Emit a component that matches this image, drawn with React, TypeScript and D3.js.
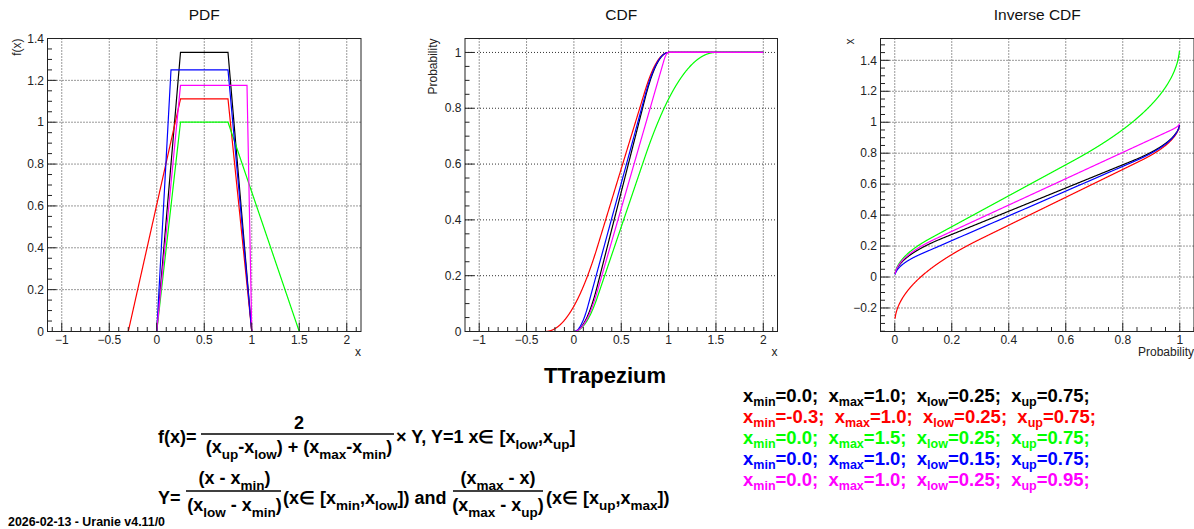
import React from "react";
import * as d3 from "d3";

const W = 1194;
const H = 529;
const FONT = "'Liberation Sans', Arial, Helvetica, sans-serif";

const seriesColors = ["#000000", "#ff0000", "#00ff00", "#0000ff", "#ff00ff"];
const xMinValues = [0.0, -0.3, 0.0, 0.0, 0.0];
const xMaxValues = [1.0, 1.0, 1.5, 1.0, 1.0];
const xLowValues = [0.25, 0.25, 0.25, 0.15, 0.25];
const xUpValues = [0.75, 0.75, 0.75, 0.75, 0.95];

// ---- tick labels ----
const pdfXTicks = [-1, -0.5, 0, 0.5, 1, 1.5, 2];
const pdfYTicks = [0, 0.2, 0.4, 0.6, 0.8, 1, 1.2, 1.4];
const cdfXTicks = [-1, -0.5, 0, 0.5, 1, 1.5, 2];
const cdfYTicks = [0, 0.2, 0.4, 0.6, 0.8, 1];
const invXTicks = [0, 0.2, 0.4, 0.6, 0.8, 1];
const invYTicks = [-0.2, 0, 0.2, 0.4, 0.6, 0.8, 1, 1.2, 1.4];

type P = { xmin: number; xmax: number; xlow: number; xup: number };
const params: P[] = xMinValues.map((v, i) => ({
  xmin: v,
  xmax: xMaxValues[i],
  xlow: xLowValues[i],
  xup: xUpValues[i],
}));

function height(p: P) {
  return 2 / (p.xup - p.xlow + (p.xmax - p.xmin));
}
function pdf(p: P, x: number) {
  const h = height(p);
  if (x < p.xmin || x > p.xmax) return 0;
  if (x < p.xlow) return (h * (x - p.xmin)) / (p.xlow - p.xmin);
  if (x <= p.xup) return h;
  return (h * (p.xmax - x)) / (p.xmax - p.xup);
}
function cdf(p: P, x: number) {
  const h = height(p);
  if (x <= p.xmin) return 0;
  if (x >= p.xmax) return 1;
  if (x < p.xlow) return (h * (x - p.xmin) ** 2) / (2 * (p.xlow - p.xmin));
  if (x <= p.xup) return (h * (p.xlow - p.xmin)) / 2 + h * (x - p.xlow);
  return 1 - (h * (p.xmax - x) ** 2) / (2 * (p.xmax - p.xup));
}
function invCdf(p: P, u: number) {
  const h = height(p);
  const a = (h * (p.xlow - p.xmin)) / 2;
  const b = a + h * (p.xup - p.xlow);
  if (u < a) return p.xmin + Math.sqrt((2 * u * (p.xlow - p.xmin)) / h);
  if (u <= b) return p.xlow + (u - a) / h;
  return p.xmax - Math.sqrt((2 * (1 - u) * (p.xmax - p.xup)) / h);
}

const xGrid = d3.range(0, 1201).map((i) => -1 + (i * 3) / 1200);
const uGrid = d3.range(0, 999).map((i) => 0.001 + i * 0.001);

const pdfSeries = params.map((p) => xGrid.map((x) => [x, pdf(p, x)] as [number, number]));
const cdfSeries = params.map((p) => xGrid.map((x) => [x, cdf(p, x)] as [number, number]));
const invSeries = params.map((p) => uGrid.map((u) => [u, invCdf(p, u)] as [number, number]));

function fmt(v: number) {
  const s = String(Math.round(v * 1000) / 1000);
  return s.replace("-", "\u2212");
}

function minorTicks(domain: [number, number], step: number) {
  const out: number[] = [];
  const start = Math.ceil(domain[0] / step - 1e-9);
  const end = Math.floor(domain[1] / step + 1e-9);
  for (let i = start; i <= end; i++) out.push(Math.round(i * step * 1e6) / 1e6);
  return out;
}

type PanelProps = {
  l: number; t: number; r: number; b: number;
  xDomain: [number, number]; yDomain: [number, number];
  xTicks: number[]; yTicks: number[];
  xMinor: number; yMinor: number;
  title: string; xTitle: string; yTitle: string;
  series: [number, number][][];
  id: string;
};

function Panel(props: PanelProps) {
  const { l, t, r, b, xDomain, yDomain, xTicks, yTicks, xMinor, yMinor, title, xTitle, yTitle, series, id } = props;
  const x = d3.scaleLinear().domain(xDomain).range([l, r]);
  const y = d3.scaleLinear().domain(yDomain).range([b, t]);
  const line = d3.line<[number, number]>().x((d) => x(d[0])).y((d) => y(d[1]));
  const xm = minorTicks(xDomain, xMinor);
  const ym = minorTicks(yDomain, yMinor);
  const majLen = 9;
  const minLen = 4.5;
  const isMajor = (v: number, ticks: number[]) => ticks.some((tk) => Math.abs(tk - v) < 1e-6);
  return (
    <g>
      <defs>
        <clipPath id={id}>
          <rect x={l} y={t} width={r - l} height={b - t} />
        </clipPath>
      </defs>
      <text x={(l + r) / 2} y={20} textAnchor="middle" fontSize={15.5} fill="#111">
        {title}
      </text>
      <g stroke="#333" strokeWidth={1} strokeDasharray="1 2">
        {xTicks.map((v) => (
          <line key={"gx" + v} x1={x(v)} x2={x(v)} y1={t} y2={b} />
        ))}
        {yTicks.map((v) => (
          <line key={"gy" + v} x1={l} x2={r} y1={y(v)} y2={y(v)} />
        ))}
      </g>
      <g clipPath={`url(#${id})`} fill="none" strokeWidth={1.2}>
        {series.map((s, i) => (
          <path key={i} d={line(s) || ""} stroke={seriesColors[i]} />
        ))}
      </g>
      <rect x={l} y={t} width={r - l} height={b - t} fill="none" stroke="#222" strokeWidth={1} />
      <g stroke="#222" strokeWidth={1}>
        {xm.map((v) => (
          <line key={"tx" + v} x1={x(v)} x2={x(v)} y1={b} y2={b - (isMajor(v, xTicks) ? majLen : minLen)} />
        ))}
        {ym.map((v) => (
          <line key={"ty" + v} x1={l} x2={l + (isMajor(v, yTicks) ? majLen : minLen)} y1={y(v)} y2={y(v)} />
        ))}
      </g>
      <g fontSize={12} fill="#222">
        {xTicks.map((v) => (
          <text key={"lx" + v} x={x(v)} y={344} textAnchor="middle">
            {fmt(v)}
          </text>
        ))}
        {yTicks.map((v) => (
          <text key={"ly" + v} x={l - 3.5} y={y(v)} dy="0.35em" textAnchor="end">
            {fmt(v)}
          </text>
        ))}
      </g>
      <text x={r} y={356} textAnchor="end" fontSize={12} fill="#222">
        {xTitle}
      </text>
      <text
        transform={`translate(${l - (yTitle === "Probability" ? 28 : 27)},${t}) rotate(-90)`}
        textAnchor="end"
        fontSize={12}
        fill="#222"
      >
        {yTitle}
      </text>
    </g>
  );
}

type Seg = [string, boolean];
function Rich(props: {
  x: number; y: number; segs: Seg[]; size: number; sub: number; shift: number;
  anchor?: string; fill?: string;
}) {
  const { x, y, segs, size, sub, shift, anchor, fill } = props;
  let down = false;
  return (
    <text x={x} y={y} textAnchor={anchor || "start"} fontSize={size} fontWeight="bold" fill={fill || "#000"} style={{ whiteSpace: "pre" }}>
      {segs.map(([s, isSub], i) => {
        let dy = 0;
        if (isSub && !down) { dy = shift; down = true; }
        else if (!isSub && down) { dy = -shift; down = false; }
        return (
          <tspan key={i} dy={dy} fontSize={isSub ? sub : size}>
            {s}
          </tspan>
        );
      })}
    </text>
  );
}

const fmt1 = (v: number) => v.toFixed(1);
const fmt2 = (v: number) => v.toFixed(2);

const FS = 18;
const SS = 13.5;
const SH = 6;

export default function App() {
  return (
    <svg
      width={W}
      height={H}
      viewBox={`0 0 ${W} ${H}`}
      style={{ position: "absolute", left: 0, top: 0, background: "#fff", fontFamily: FONT }}
    >
      <rect x={0} y={0} width={W} height={H} fill="#fff" />
      <Panel
        id="c1" l={47.5} t={38.5} r={361} b={331.5}
        xDomain={[-1.15, 2.15]} yDomain={[0, 1.4]}
        xTicks={pdfXTicks} yTicks={pdfYTicks} xMinor={0.1} yMinor={0.05}
        title="PDF" xTitle="x" yTitle="f(x)" series={pdfSeries}
      />
      <Panel
        id="c2" l={465} t={38.5} r={777.5} b={331.5}
        xDomain={[-1.15, 2.15]} yDomain={[0, 1.05]}
        xTicks={cdfXTicks} yTicks={cdfYTicks} xMinor={0.1} yMinor={0.05}
        title="CDF" xTitle="x" yTitle="Probability" series={cdfSeries}
      />
      <Panel
        id="c3" l={880.5} t={38.5} r={1194} b={331.5}
        xDomain={[-0.05, 1.05]} yDomain={[-0.352, 1.541]}
        xTicks={invXTicks} yTicks={invYTicks} xMinor={0.05} yMinor={0.05}
        title="Inverse CDF" xTitle="Probability" yTitle="x" series={invSeries}
      />

      <text x={605} y={383} textAnchor="middle" fontSize={22} fontWeight="bold" fill="#000">
        TTrapezium
      </text>

      {/* formula line 1 */}
      <text x={158} y={443} fontSize={FS} fontWeight="bold">f(x)=</text>
      <text x={299} y={429} textAnchor="middle" fontSize={FS} fontWeight="bold">2</text>
      <line x1={201} x2={394} y1={434} y2={434} stroke="#000" strokeWidth={1.5} />
      <Rich x={299} y={453} anchor="middle" size={FS} sub={SS} shift={SH}
        segs={[["(x", false], ["up", true], ["-x", false], ["low", true], [") + (x", false], ["max", true], ["-x", false], ["min", true], [")", false]]} />
      <Rich x={396} y={443} size={FS} sub={SS} shift={SH}
        segs={[["\u00d7 Y, Y=1 x\u2208 [x", false], ["low", true], [",x", false], ["up", true], ["]", false]]} />

      {/* formula line 2 */}
      <text x={158} y={504} fontSize={FS} fontWeight="bold">Y=</text>
      <Rich x={234.5} y={484} anchor="middle" size={FS} sub={SS} shift={SH}
        segs={[["(x - x", false], ["min", true], [")", false]]} />
      <line x1={186} x2={281} y1={491} y2={491} stroke="#000" strokeWidth={1.5} />
      <Rich x={234.5} y={511} anchor="middle" size={FS} sub={SS} shift={SH}
        segs={[["(x", false], ["low", true], [" - x", false], ["min", true], [")", false]]} />
      <Rich x={283} y={504} size={FS} sub={SS} shift={SH}
        segs={[["(x\u2208 [x", false], ["min", true], [",x", false], ["low", true], ["]) and", false]]} />
      <Rich x={498} y={484} anchor="middle" size={FS} sub={SS} shift={SH}
        segs={[["(x", false], ["max", true], [" - x)", false]]} />
      <line x1={453} x2={543} y1={491} y2={491} stroke="#000" strokeWidth={1.5} />
      <Rich x={498} y={511} anchor="middle" size={FS} sub={SS} shift={SH}
        segs={[["(x", false], ["max", true], [" - x", false], ["up", true], [")", false]]} />
      <Rich x={546} y={504} size={FS} sub={SS} shift={SH}
        segs={[["(x\u2208 [x", false], ["up", true], [",x", false], ["max", true], ["])", false]]} />

      {/* legend */}
      {params.map((p, i) => (
        <Rich key={i} x={743} y={402 + i * 21} size={18.5} sub={12.5} shift={4} fill={seriesColors[i]}
          segs={[
            ["x", false], ["min", true], [`=${fmt1(p.xmin)};  x`, false],
            ["max", true], [`=${fmt1(p.xmax)};  x`, false],
            ["low", true], [`=${fmt2(p.xlow)};  x`, false],
            ["up", true], [`=${fmt2(p.xup)};`, false],
          ]} />
      ))}

      <text x={8} y={526} fontSize={12} fontWeight="bold" fill="#000" textLength={157} lengthAdjust="spacingAndGlyphs">
        2026-02-13 - Uranie v4.11/0
      </text>
    </svg>
  );
}
